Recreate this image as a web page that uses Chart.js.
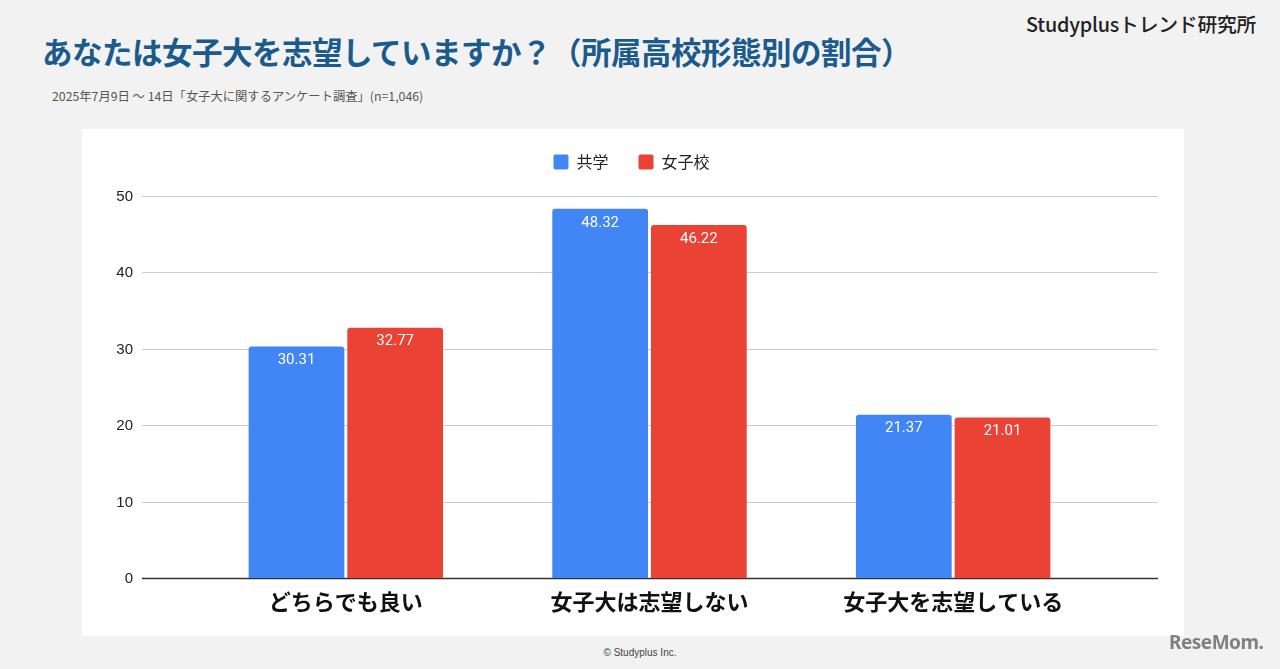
<!DOCTYPE html>
<html>
<head>
<meta charset="utf-8">
<script src="https://cdn.jsdelivr.net/npm/chart.js@4"></script>
<style>
  html, body { margin: 0; padding: 0; }
  body { width: 1280px; height: 669px; background: #f2f2f2; position: relative; overflow: hidden;
         font-family: "Noto Sans CJK JP", sans-serif; }
  .title { position: absolute; left: 42px; top: 29px; font-size: 30.5px; font-weight: 700; color: #1b5a8c; white-space: nowrap; letter-spacing: -0.5px; }
  .sub { position: absolute; left: 52px; top: 87px; font-size: 12.3px; color: #555; white-space: nowrap; }
  .brand { position: absolute; left: 1026px; top: 9px; font-size: 19.8px; font-weight: 500; color: #222; white-space: nowrap; letter-spacing: -0.2px; }
  .copy { position: absolute; left: 0; width: 1280px; top: 647px; text-align: center; font-family: Arial, "Liberation Sans", sans-serif; font-size: 10px; color: #444; }
  .logo { position: absolute; left: 1169px; top: 629px; font-family: "Noto Sans", sans-serif; font-size: 19px; font-weight: 700; color: #808080; letter-spacing: -0.5px; }
  .panel { position: absolute; left: 82px; top: 129px; width: 1102px; height: 507px; background: #fff; }
</style>
</head>
<body>
<div class="title">あなたは女子大を志望していますか？（所属高校形態別の割合）</div>
<div class="sub">2025年7月9日 ～ 14日「女子大に関するアンケート調査」(n=1,046)</div>
<div class="brand">Studyplusトレンド研究所</div>
<div class="panel"><canvas id="myChart" width="1102" height="507"></canvas></div>
<div class="copy">© Studyplus Inc.</div>
<div class="logo">ReseMom.</div>
<script>
  const categories = ['どちらでも良い', '女子大は志望しない', '女子大を志望している'];
  const coedValues = [30.31, 48.32, 21.37];
  const girlsValues = [32.77, 46.22, 21.01];
  const seriesNames = ['共学', '女子校'];
  const yTicks = [0, 10, 20, 30, 40, 50];

  // gridlines + y labels run wider than the bar area, like the original
  const gridPlugin = {
    id: 'wideGrid',
    beforeDatasetsDraw(chart) {
      const ctx = chart.ctx;
      const y = chart.scales.y;
      ctx.save();
      ctx.font = '15px Arial, "Liberation Sans"';
      ctx.textAlign = 'right';
      ctx.textBaseline = 'middle';
      yTicks.forEach(v => {
        const py = Math.round(y.getPixelForValue(v)) + 0.5;
        ctx.beginPath();
        ctx.strokeStyle = v === 0 ? '#333' : '#ccc';
        ctx.lineWidth = v === 0 ? 1.5 : 1;
        ctx.moveTo(60, py);
        ctx.lineTo(1076, py);
        ctx.stroke();
        ctx.fillStyle = '#222';
        ctx.fillText(String(v), 51, py);
      });
      ctx.restore();
    }
  };

  // values written inside the top of each bar
  const valuePlugin = {
    id: 'values',
    afterDatasetsDraw(chart) {
      const ctx = chart.ctx;
      ctx.save();
      ctx.font = '15px Roboto';
      ctx.fillStyle = '#fff';
      ctx.textAlign = 'center';
      ctx.textBaseline = 'middle';
      chart.data.datasets.forEach((ds, i) => {
        chart.getDatasetMeta(i).data.forEach((bar, j) => {
          ctx.fillText(ds.data[j].toFixed(2), bar.x, bar.y + 14);
        });
      });
      ctx.restore();
    }
  };

  // fix legend block height so the plot starts where the original does,
  // and nudge it right to sit centred on the white panel
  const legendTweak = {
    id: 'legendTweak',
    beforeInit(chart) {
      const lg = chart.legend;
      const fit = lg.fit;
      lg.fit = function () {
        fit.bind(lg)();
        this.height = 72;
      };
      const draw = lg.draw;
      lg.draw = function () {
        chart.ctx.save();
        chart.ctx.translate(21, 0);
        draw.apply(lg, arguments);
        chart.ctx.restore();
      };
    }
  };

  const data = {
    labels: categories,
    datasets: [{
      label: seriesNames[0],
      data: coedValues,
      backgroundColor: '#4285f4',
      borderRadius: { topLeft: 3, topRight: 3 },
      borderSkipped: 'bottom'
    }, {
      label: seriesNames[1],
      data: girlsValues,
      backgroundColor: '#ea4335',
      borderRadius: { topLeft: 3, topRight: 3 },
      borderSkipped: 'bottom'
    }]
  };

  const config = {
    type: 'bar',
    data,
    options: {
      responsive: false,
      animation: false,
      barPercentage: 0.97,
      categoryPercentage: 0.65,
      layout: { padding: { left: 34, right: 79, top: -5, bottom: 0 } },
      plugins: {
        legend: {
          position: 'top',
          labels: {
            boxWidth: 15, boxHeight: 15, padding: 30,
            color: '#222',
            font: { family: '"Noto Sans CJK JP"', size: 16 },
            useBorderRadius: true, borderRadius: 2
          }
        },
        tooltip: { enabled: false }
      },
      scales: {
        x: {
          grid: { display: false, drawTicks: false },
          border: { display: false },
          afterFit(scale) { scale.height = 58; },
          ticks: {
            color: '#111', padding: 10,
            font: { family: '"Noto Sans CJK JP"', size: 22, weight: 'bold' }
          }
        },
        y: {
          min: 0, max: 50,
          grid: { display: false, drawTicks: false },
          border: { display: false },
          afterFit(scale) { scale.width = 78; },
          ticks: { stepSize: 10, display: false }
        }
      }
    },
    plugins: [legendTweak, gridPlugin, valuePlugin]
  };

  const myChart = new Chart(document.getElementById('myChart'), config);
</script>
</body>
</html>
